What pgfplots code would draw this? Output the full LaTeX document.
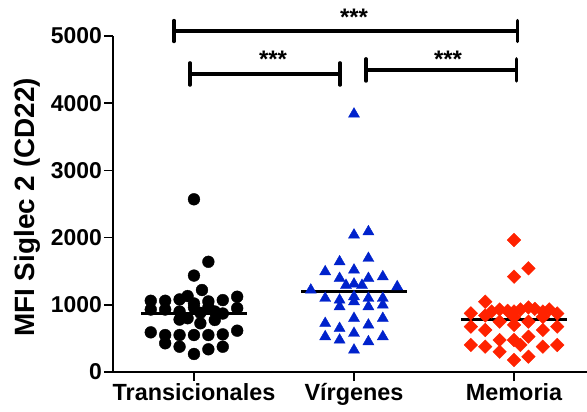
\documentclass[border=0pt]{standalone}
\usepackage{fontspec}
\setmainfont{Liberation Sans}
\usepackage{pgfplots}
\pgfplotsset{compat=1.18}
\definecolor{virgblue}{RGB}{0,34,204}
\definecolor{memred}{RGB}{255,34,0}

\begin{document}
\begin{tikzpicture}
\begin{axis}[
  scale only axis, width=474bp, height=336bp,
  xmin=0.494, xmax=3.456, ymin=0, ymax=5000,
  axis x line*=bottom, axis y line*=left,
  axis line style={line width=2pt, -},
  xtick={1,2,3}, xticklabels={Transicionales,Vírgenes,Memoria},
  ytick={0,1000,...,5000},
  tick align=outside, major tick length=9bp,
  tick style={line width=1.8pt, black},
  yticklabel style={font=\bfseries\fontsize{23}{26}\selectfont, inner sep=2bp},
  xticklabel style={font=\bfseries\fontsize{23.5}{26}\selectfont, inner sep=2bp},
  /pgf/number format/assume math mode=true,
  /pgf/number format/1000 sep={},
  clip=false,
]
% Transicionales
\addplot[only marks, mark=*, mark size=5.9bp, black] table {
x y
1.00 2570
1.09 1640
1.00 1435
1.05 1220
0.73 1060
0.82 1060
0.91 1080
0.96 1130
1.09 1050
1.18 1070
1.27 1120
1.00 1020
0.73 930
0.82 930
0.91 900
1.04 880
1.13 900
1.18 870
1.27 950
1.00 960
1.09 960
0.96 800
1.04 725
1.13 774
0.91 780
0.73 590
0.82 550
0.91 550
1.00 550
1.09 550
1.18 560
1.27 615
0.82 427
0.91 376
1.09 338
1.18 376
1.00 268
};
% Virgenes
\addplot[only marks, mark=triangle*, mark size=6.4bp, virgblue] table {
x y
2.00 3839
2.00 2039
2.09 2088
2.09 1692
1.91 1641
1.82 1493
2.00 1518
1.91 1394
2.09 1394
2.18 1418
1.73 1220
2.27 1270
1.95 1290
2.00 1310
2.05 1290
1.82 1097
1.91 1071
1.91 972
2.00 1121
2.00 1046
2.09 1097
2.09 972
2.18 1097
2.18 997
2.00 799
1.82 724
2.18 799
1.91 650
2.09 700
1.82 526
1.91 476
2.00 576
2.18 526
2.09 451
2.00 327
};
% Memoria
\addplot[only marks, mark=square*, mark size=4.8bp, mark options={rotate=45}, memred] table {
x y
3.00 1964
3.09 1543
3.00 1418
2.82 1046
2.73 873
2.86 900
2.91 930
2.96 910
3.00 900
3.04 930
3.09 960
3.13 940
3.18 900
3.22 930
3.27 870
2.82 840
3.00 820
3.18 820
2.73 675
2.82 625
2.91 749
3.00 700
3.09 749
3.18 625
3.27 675
2.73 402
2.82 377
2.91 476
3.00 476
3.04 402
3.09 526
3.18 377
3.27 402
2.91 302
3.00 179
3.09 228
};
% medians
\addplot[black, line width=3bp] coordinates {(0.67,875) (1.33,875)};
\addplot[black, line width=3bp] coordinates {(1.67,1195) (2.33,1195)};
\addplot[black, line width=3bp] coordinates {(2.67,775) (3.33,775)};
% significance brackets
\addplot[black, line width=3.4bp] coordinates {(0.875,5074) (3.023,5074)};
\addplot[black, line width=3.4bp, line cap=round] coordinates {(0.875,4918) (0.875,5230)};
\addplot[black, line width=3.4bp, line cap=round] coordinates {(3.023,4918) (3.023,5230)};
\addplot[black, line width=3.4bp] coordinates {(0.975,4435) (1.9125,4435)};
\addplot[black, line width=3.4bp, line cap=round] coordinates {(0.975,4270) (0.975,4600)};
\addplot[black, line width=3.4bp, line cap=round] coordinates {(1.9125,4270) (1.9125,4600)};
\addplot[black, line width=3.4bp] coordinates {(2.075,4494) (3.017,4494)};
\addplot[black, line width=3.4bp, line cap=round] coordinates {(2.075,4330) (2.075,4660)};
\addplot[black, line width=3.4bp, line cap=round] coordinates {(3.017,4330) (3.017,4660)};
\node[font=\bfseries\fontsize{24}{26}\selectfont] at (axis cs:2.0,5280) {***};
\node[font=\bfseries\fontsize{24}{26}\selectfont] at (axis cs:1.494,4650) {***};
\node[font=\bfseries\fontsize{24}{26}\selectfont] at (axis cs:2.5875,4650) {***};
% axis title
\node[rotate=90, anchor=center, font=\bfseries\fontsize{28}{32}\selectfont]
  at ([xshift=-86bp]rel axis cs:0,0.49) {MFI Siglec 2 (CD22)};
\end{axis}
\pgfresetboundingbox
\useasboundingbox (-113bp,-40bp) rectangle (474bp,372bp);
\end{tikzpicture}
\end{document}
